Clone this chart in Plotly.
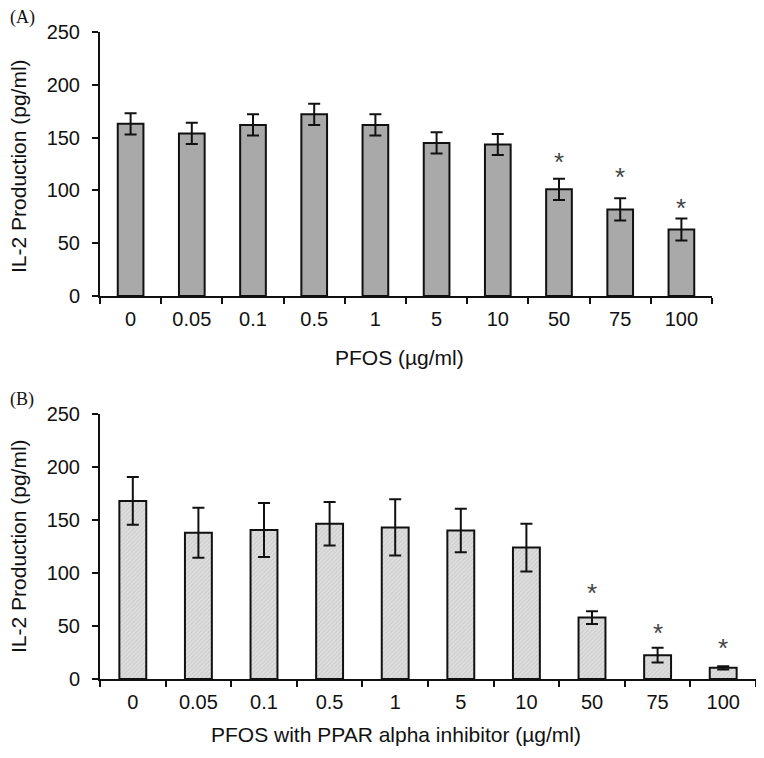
import plotly.graph_objects as go

categories = ["0", "0.05", "0.1", "0.5", "1", "5", "10", "50", "75", "100"]

il2_a = [163, 154, 162, 172, 162, 145, 143.5, 101, 82, 63]
err_a = [10, 10, 10, 10, 10, 10, 10, 10, 10.5, 10.5]
star_cats_a = ["50", "75", "100"]
star_y_a = [127, 113, 83]

il2_b = [168, 138, 140.5, 146.5, 143, 140, 124, 58, 22.5, 10.5]
err_b = [22.5, 23.5, 25.5, 20.5, 26.5, 20.5, 22.5, 6, 7, 1.5]
star_cats_b = ["50", "75", "100"]
star_y_b = [81, 43, 29]

# page body has an 8px margin, so the figure is drawn 8px in from the window edge
OFF = 8
W, H = 764 - OFF, 758 - OFF
FONT = "Liberation Sans, Arial, sans-serif"

def px_x(x):
    return (x - OFF) / W

def px_y(y):
    return (H - (y - OFF)) / H

fig = go.Figure()

fig.add_trace(go.Bar(
    x=categories, y=il2_a, xaxis="x", yaxis="y", width=0.42,
    marker=dict(color="#a9a9a9", line=dict(color="#111111", width=2)),
    error_y=dict(type="data", array=err_a, visible=True, color="#111111",
                 thickness=2, width=6),
    showlegend=False,
))

fig.add_trace(go.Bar(
    x=categories, y=il2_b, xaxis="x2", yaxis="y2", width=0.41,
    marker=dict(color="#dadada", line=dict(color="#111111", width=2),
                pattern=dict(shape="/", fgcolor="#b8b8b8", bgcolor="#dedede",
                             size=3, solidity=0.35)),
    error_y=dict(type="data", array=err_b, visible=True, color="#111111",
                 thickness=2, width=6),
    showlegend=False,
))

axis_common = dict(
    showline=True, linecolor="#111111", linewidth=2, showgrid=False,
    zeroline=False, ticks="outside", ticklen=6, tickwidth=2, tickcolor="#111111",
    automargin=False,
    tickfont=dict(family=FONT, size=20, color="#111111"),
)

fig.update_layout(
    width=W, height=H,
    margin=dict(l=0, r=0, t=0, b=0, autoexpand=False),
    paper_bgcolor="white", plot_bgcolor="white",
    xaxis=dict(domain=[px_x(100), px_x(712)], anchor="y", type="category",
               range=[-0.5, 9.5], tickson="boundaries", tickangle=0,
               ticklabelstandoff=4, **axis_common),
    yaxis=dict(domain=[px_y(296), px_y(32)], anchor="x", range=[0, 250],
               tickvals=[0, 50, 100, 150, 200, 250], ticklabelstandoff=8,
               **axis_common),
    xaxis2=dict(domain=[px_x(100), px_x(756)], anchor="y2", type="category",
                range=[-0.5, 9.5], tickson="boundaries", tickangle=0,
                ticklabelstandoff=4, **axis_common),
    yaxis2=dict(domain=[px_y(679), px_y(414)], anchor="x2", range=[0, 250],
                tickvals=[0, 50, 100, 150, 200, 250], ticklabelstandoff=8,
                **axis_common),
)

annotations = []
for c, yv in zip(star_cats_a, star_y_a):
    annotations.append(dict(x=categories.index(c), y=yv, xref="x", yref="y", text="*",
                            showarrow=False,
                            font=dict(family=FONT, size=26, color="#444444"),
                            yanchor="middle"))
for c, yv in zip(star_cats_b, star_y_b):
    annotations.append(dict(x=categories.index(c), y=yv, xref="x2", yref="y2", text="*",
                            showarrow=False,
                            font=dict(family=FONT, size=26, color="#444444"),
                            yanchor="middle"))

title_font = dict(family=FONT, size=21, color="#111111")
annotations += [
    dict(x=px_x(399), y=px_y(357), xref="paper", yref="paper", text="PFOS (µg/ml)",
         showarrow=False, font=title_font, xanchor="center", yanchor="middle"),
    dict(x=px_x(396), y=px_y(734), xref="paper", yref="paper",
         text="PFOS with PPAR alpha inhibitor (µg/ml)",
         showarrow=False, font=title_font, xanchor="center", yanchor="middle"),
    dict(x=px_x(18), y=px_y(166), xref="paper", yref="paper", text="IL-2 Production (pg/ml)",
         showarrow=False, font=title_font, textangle=-90, xanchor="center", yanchor="middle"),
    dict(x=px_x(18), y=px_y(546), xref="paper", yref="paper", text="IL-2 Production (pg/ml)",
         showarrow=False, font=title_font, textangle=-90, xanchor="center", yanchor="middle"),
    dict(x=px_x(22), y=px_y(17), xref="paper", yref="paper", text="(A)",
         showarrow=False, font=dict(family="Liberation Serif, serif", size=18, color="#111111"),
         xanchor="center", yanchor="middle"),
    dict(x=px_x(22), y=px_y(400), xref="paper", yref="paper", text="(B)",
         showarrow=False, font=dict(family="Liberation Serif, serif", size=18, color="#111111"),
         xanchor="center", yanchor="middle"),
]
fig.update_layout(annotations=annotations)

fig.write_html("out.html")
